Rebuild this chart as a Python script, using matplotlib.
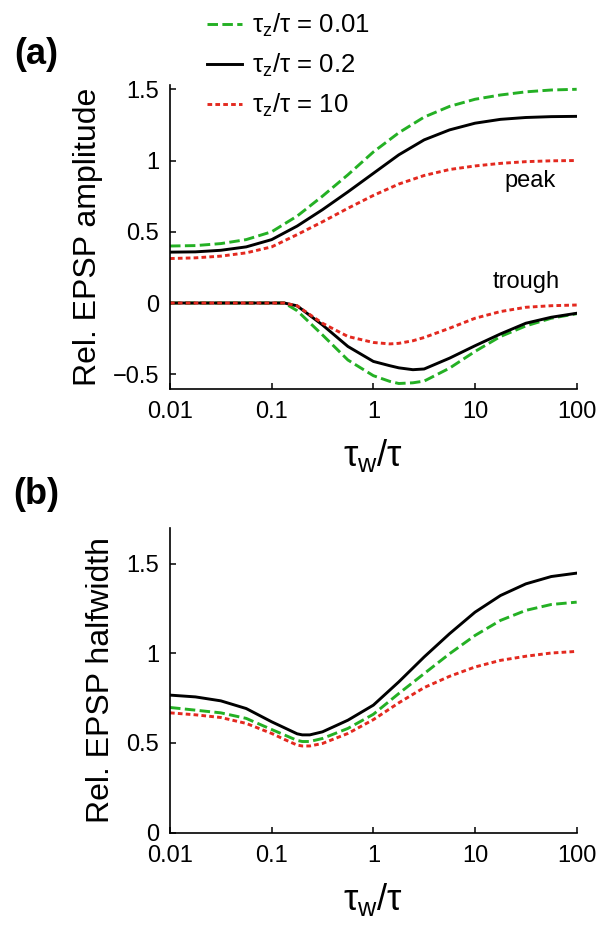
import numpy as np
import matplotlib
matplotlib.use("Agg")
import matplotlib.pyplot as plt

plt.rcParams['font.family'] = ['Liberation Sans', 'DejaVu Sans']
plt.rcParams['mathtext.fontset'] = 'custom'
plt.rcParams['mathtext.rm'] = 'Liberation Sans'
plt.rcParams['mathtext.it'] = 'Liberation Sans'

# tau_w / tau sample points
tw = [0.01, 0.0178, 0.0316, 0.0562, 0.1, 0.178, 0.316, 0.562, 1, 1.78, 3.16, 5.62,
      10, 17.8, 31.6, 56.2, 100]

# (a) peak amplitude
peak_g = [0.40, 0.403, 0.417, 0.445, 0.50, 0.61, 0.75, 0.90, 1.06, 1.195, 1.305, 1.38,
          1.43, 1.46, 1.482, 1.495, 1.50]
peak_k = [0.357, 0.359, 0.37, 0.394, 0.445, 0.54, 0.655, 0.78, 0.91, 1.04, 1.145, 1.215,
          1.262, 1.289, 1.302, 1.308, 1.31]
peak_r = [0.312, 0.317, 0.329, 0.352, 0.394, 0.48, 0.57, 0.665, 0.755, 0.835, 0.895, 0.937,
          0.962, 0.98, 0.992, 0.998, 1.0]

# (a) trough amplitude
tw_tr = [0.01, 0.0178, 0.0316, 0.0562, 0.1, 0.133, 0.178, 0.316, 0.562, 1, 1.45, 1.78,
         2.45, 3.16, 5.62, 10, 17.8, 31.6, 56.2, 100]
trough_g = [0, 0, 0, 0, 0, 0, -0.054, -0.224, -0.40, -0.51, -0.55, -0.565,
            -0.56, -0.548, -0.457, -0.34, -0.235, -0.161, -0.107, -0.075]
trough_k = [0, 0, 0, 0, 0, 0, -0.02, -0.154, -0.305, -0.41, -0.44, -0.455,
            -0.468, -0.463, -0.387, -0.30, -0.217, -0.142, -0.10, -0.072]
trough_r = [0, 0, 0, 0, 0, 0, -0.02, -0.142, -0.235, -0.277, -0.287, -0.283,
            -0.265, -0.242, -0.177, -0.107, -0.06, -0.03, -0.019, -0.014]

# (b) halfwidth
tw_b = [0.01, 0.0178, 0.0316, 0.0562, 0.1, 0.133, 0.178, 0.2, 0.237, 0.316, 0.562, 1,
        1.78, 3.16, 5.62, 10, 17.8, 31.6, 56.2, 100]
hw_k = [0.767, 0.757, 0.735, 0.692, 0.618, 0.585, 0.551, 0.545, 0.545, 0.562, 0.627, 0.711,
        0.841, 0.98, 1.11, 1.23, 1.323, 1.388, 1.429, 1.448]
hw_g = [0.698, 0.683, 0.668, 0.637, 0.575, 0.545, 0.514, 0.508, 0.508, 0.525, 0.581, 0.66,
        0.776, 0.887, 0.998, 1.10, 1.184, 1.24, 1.273, 1.286]
hw_r = [0.668, 0.657, 0.642, 0.609, 0.553, 0.52, 0.488, 0.483, 0.483, 0.497, 0.553, 0.63,
        0.724, 0.809, 0.872, 0.924, 0.961, 0.984, 1.002, 1.011]

labels = ['τ$_\\mathrm{z}$/τ = 0.01', 'τ$_\\mathrm{z}$/τ = 0.2', 'τ$_\\mathrm{z}$/τ = 10']
xticks = [0.01, 0.1, 1, 10, 100]
xticklabels = ['0.01', '0.1', '1', '10', '100']

green = '#24b024'
red = '#e3291f'
sty_g = dict(color=green, lw=2.1, linestyle=(0, (3.6, 1.5)))
sty_k = dict(color='black', lw=2.1, linestyle='-')
sty_r = dict(color=red, lw=2.1, linestyle=(0, (1.6, 1.1)))

fig = plt.figure(figsize=(6.12, 9.25), dpi=100)
ax1 = fig.add_axes([0.2778, 0.58, 0.6645, 0.3281])
ax2 = fig.add_axes([0.2778, 0.10, 0.6645, 0.3292])

hg, = ax1.plot(tw, peak_g, **sty_g)
hk, = ax1.plot(tw, peak_k, **sty_k)
hr, = ax1.plot(tw, peak_r, **sty_r)
ax1.plot(tw_tr, trough_g, **sty_g)
ax1.plot(tw_tr, trough_k, **sty_k)
ax1.plot(tw_tr, trough_r, **sty_r)

ax2.plot(tw_b, hw_k, **sty_k)
ax2.plot(tw_b, hw_g, **sty_g)
ax2.plot(tw_b, hw_r, **sty_r)

for ax in (ax1, ax2):
    ax.set_xscale('log')
    ax.set_xlim(0.01, 100)
    ax.set_xticks(xticks)
    ax.set_xticklabels(xticklabels)
    ax.minorticks_off()
    for s in ('top', 'right'):
        ax.spines[s].set_visible(False)
    for s in ('left', 'bottom'):
        ax.spines[s].set_linewidth(1.2)
    ax.tick_params(direction='in', length=4, width=1.1, labelsize=17)
    ax.tick_params(axis='x', pad=9)
    ax.tick_params(axis='y', pad=8)
    ax.set_xlabel('τ$_\\mathrm{w}$/τ', fontsize=26, labelpad=10)

ax1.set_ylim(-0.6, 1.53)
ax1.set_yticks([-0.5, 0, 0.5, 1, 1.5])
ax1.set_yticklabels(['\u22120.5', '0', '0.5', '1', '1.5'])
ax1.set_ylabel('Rel. EPSP amplitude', fontsize=23, labelpad=7)
ax1.text(0.885, 0.684, 'peak', transform=ax1.transAxes, fontsize=17,
         ha='center', va='center')
ax1.text(0.877, 0.35, 'trough', transform=ax1.transAxes, fontsize=17,
         ha='center', va='center')

ax2.set_ylim(0, 1.7)
ax2.set_yticks([0, 0.5, 1, 1.5])
ax2.set_yticklabels(['0', '0.5', '1', '1.5'])
ax2.set_ylabel('Rel. EPSP halfwidth', fontsize=23, labelpad=7)

fig.legend([hg, hk, hr], labels, loc='upper left',
           bbox_to_anchor=(207 / 612, 1 - 12 / 925), frameon=False,
           fontsize=18.5, handlelength=1.36, handletextpad=0.4,
           labelspacing=0.5, borderpad=0, borderaxespad=0)

fig.text(14 / 612, 1 - 54 / 925, '(a)', fontsize=26, fontweight='bold',
         ha='left', va='center')
fig.text(13 / 612, 1 - 495 / 925, '(b)', fontsize=26, fontweight='bold',
         ha='left', va='center')

fig.savefig('out.png', dpi=100)
